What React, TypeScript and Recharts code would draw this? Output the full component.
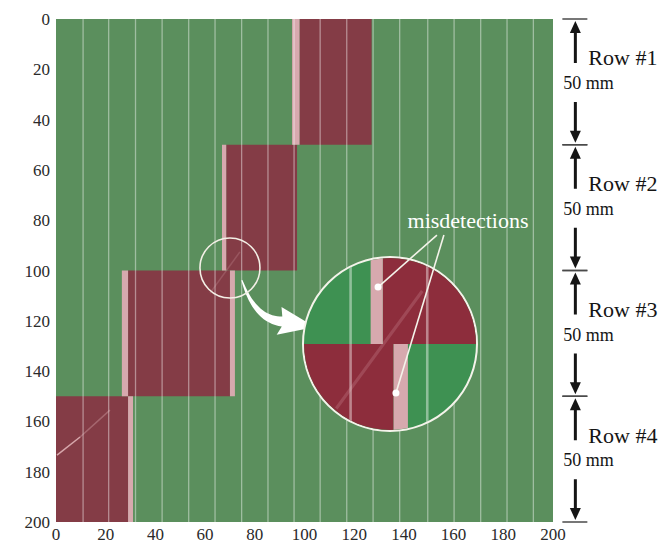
import React from 'react';
import { ComposedChart, XAxis, YAxis, ReferenceArea, ReferenceLine, ReferenceDot } from 'recharts';

const W = 664;
const H = 546;
const SERIF = 'Liberation Serif, Times New Roman, Times, serif';

const GREEN = '#5b8f5d';
const RED = '#843c46';
const STRIP = '#d7a9ae';
const LENS_GREEN = '#3e9152';
const LENS_RED = '#8d2d3c';
const INK = '#151515';

const xTicks = [0, 20, 40, 60, 80, 100, 120, 140, 160, 180, 200];
const yTicks = [0, 20, 40, 60, 80, 100, 120, 140, 160, 180, 200];

// scan rows (mm)
const rowStart = [0, 50, 100, 150];
const rowEnd = [50, 100, 150, 200];
const rowNames = ['Row #1', 'Row #2', 'Row #3', 'Row #4'];
const rowSize = '50 mm';

// detected (red) span in each row
const redFrom = [98, 68.5, 29, 0];
const redTo = [127, 97, 70, 29];

// light edge strips next to the detected spans
const stripFrom = [95, 66.8, 26.5, 70, 29];
const stripTo = [98, 68.5, 29, 72, 31];
const stripRow = [0, 1, 2, 2, 3];

// vertical scan tracks
const scanLines = [10.9, 21.2, 32, 42.7, 53.4, 64, 74.7, 85.3, 95.8, 106.3, 117, 127.6, 138.3, 149.6, 160.2, 170.9, 181.5, 192.1];

// scratch streaks
const streakX1 = [0.4, 9.7, 62];
const streakY1 = [173.4, 166.2, 109];
const streakX2 = [9.7, 21.7, 74];
const streakY2 = [166.2, 155.5, 92.6];
const streakAlpha = [0.75, 0.3, 0.18];

// magnified spot and the window shown in the lens
const spot = { x: 70, y: 99 };
const lensX = [57.5, 81.5];
const lensY = [88, 112];

// arrow from spot to lens
const arrowFrom = { x: 74.8, y: 103.8 };
const arrowTo = { x: 104.2, y: 122.5 };

// misdetection callouts
const missX = [129.6, 136.8];
const missY = [106.6, 148.7];
const leaderX = [153.3, 156.1];
const leaderY = [85.9, 85.9];
const missLabel = { x: 165.8, y: 80, text: 'misdetections' };

// dimension column right of the plot
const dimX = 209;

const RowDim = (p: any) => {
  const { x1, y1, y2, name } = p;
  const h = y2 - y1;
  const x = x1;
  const upEnd = y1 + h * 0.35;
  const downStart = y1 + h * 0.66;
  return (
    <g>
      <line x1={x - 13} x2={x + 12} y1={y1} y2={y1} stroke="#4a4a4a" strokeWidth={1.5} />
      <line x1={x - 13} x2={x + 12} y1={y2} y2={y2} stroke="#4a4a4a" strokeWidth={1.5} />
      <line x1={x} x2={x} y1={y1 + 10} y2={upEnd} stroke={INK} strokeWidth={3} />
      <path d={`M${x},${y1 + 2} L${x - 5.5},${y1 + 14} L${x + 5.5},${y1 + 14} Z`} fill={INK} />
      <line x1={x} x2={x} y1={downStart} y2={y2 - 10} stroke={INK} strokeWidth={3} />
      <path d={`M${x},${y2 - 2} L${x - 5.5},${y2 - 14} L${x + 5.5},${y2 - 14} Z`} fill={INK} />
      <text x={x + 13} y={y1 + h * 0.31} dominantBaseline="central" fontFamily={SERIF} fontSize={22} fill={INK}>
        {name}
      </text>
      <text x={x - 12} y={y1 + h * 0.51} dominantBaseline="central" fontFamily={SERIF} fontSize={18} fill={INK}>
        {rowSize}
      </text>
    </g>
  );
};

const CurvedArrow = (p: any) => {
  const { x1, y1, x2, y2 } = p;
  const dx = x2 - x1;
  const dy = y2 - y1;
  const bx = x1 + dx * 0.55;
  const by = y1 + dy * 0.88;
  const cx = x1 + dx * 0.18;
  const cy = y1 + dy * 0.85;
  const left: number[][] = [];
  const right: number[][] = [];
  const n = 18;
  for (let i = 0; i <= n; i++) {
    const t = i / n;
    const px = (1 - t) * (1 - t) * x1 + 2 * (1 - t) * t * cx + t * t * bx;
    const py = (1 - t) * (1 - t) * y1 + 2 * (1 - t) * t * cy + t * t * by;
    const tx = 2 * (1 - t) * (cx - x1) + 2 * t * (bx - cx);
    const ty = 2 * (1 - t) * (cy - y1) + 2 * t * (by - cy);
    const len = Math.hypot(tx, ty) || 1;
    const nx = -ty / len;
    const ny = tx / len;
    const w = 0.6 + 4.4 * t;
    left.push([px + nx * w, py + ny * w]);
    right.push([px - nx * w, py - ny * w]);
  }
  const hl = Math.hypot(x2 - bx, y2 - by) || 1;
  const ux = (x2 - bx) / hl;
  const uy = (y2 - by) / hl;
  const nx = -uy;
  const ny = ux;
  const barbA = [bx - ux * 3 + nx * 14, by - uy * 3 + ny * 14];
  const barbB = [bx - ux * 3 - nx * 14, by - uy * 3 - ny * 14];
  const pts = [...left, barbA, [x2, y2], barbB, ...right.reverse()];
  const d = 'M' + pts.map((q) => `${q[0].toFixed(1)},${q[1].toFixed(1)}`).join(' L') + ' Z';
  return <path d={d} fill="#ffffff" />;
};

const tickStyle = { fontFamily: SERIF, fontSize: 17, fill: '#2a2a2a' };

function FieldLayers(green: string, red: string, lineWidth: number, overflow: 'discard' | 'hidden') {
  return [
    ...rowStart.map((y0, i) => (
      <ReferenceArea key={`red-${i}`} x1={redFrom[i]} x2={redTo[i]} y1={y0} y2={rowEnd[i]}
        fill={red} fillOpacity={1} stroke="none" ifOverflow={overflow} />
    )),
    ...stripFrom.map((x0, i) => (
      <ReferenceArea key={`strip-${i}`} x1={x0} x2={stripTo[i]} y1={rowStart[stripRow[i]]} y2={rowEnd[stripRow[i]]}
        fill={STRIP} fillOpacity={1} stroke="none" ifOverflow={overflow} />
    )),
    ...scanLines.map((x, i) => (
      <ReferenceLine key={`scan-${i}`} x={x} stroke="#ffffff" strokeOpacity={0.42} strokeWidth={lineWidth}
        ifOverflow={overflow} />
    )),
    ...streakX1.map((x, i) => (
      <ReferenceLine key={`streak-${i}`} segment={[{ x, y: streakY1[i] }, { x: streakX2[i], y: streakY2[i] }]}
        stroke="#f2c9cc" strokeOpacity={streakAlpha[i]} strokeWidth={lineWidth * 1.2} ifOverflow="hidden" />
    )),
  ];
}

export default function App() {
  return (
    <div style={{ position: 'absolute', left: 0, top: 0, width: W, height: H, background: '#ffffff' }}>
      <ComposedChart width={W} height={H} data={[]} margin={{ top: 19, right: 111, bottom: 0, left: 0 }}>
        <XAxis type="number" dataKey="x" domain={[0, 200]} allowDataOverflow ticks={xTicks} interval={0} height={24}
          axisLine={false} tickLine={false} tickSize={4} tickMargin={2} tick={tickStyle} />
        <YAxis type="number" dataKey="y" domain={[0, 200]} allowDataOverflow reversed ticks={yTicks} interval={0} width={56}
          axisLine={false} tickLine={false} tickSize={4} tickMargin={2} tick={tickStyle} />
        <ReferenceArea x1={0} x2={200} y1={0} y2={200} fill={GREEN} fillOpacity={1} stroke="none" />
        {FieldLayers(GREEN, RED, 1.3, 'discard')}
        <ReferenceDot x={spot.x} y={spot.y} r={30} fill="none" stroke="#f3efe6" strokeWidth={1.6} />
        <ReferenceLine segment={[arrowFrom, arrowTo]} shape={CurvedArrow} ifOverflow="visible" />
        {rowStart.map((y0, i) => (
          <ReferenceLine key={`dim-${i}`} segment={[{ x: dimX, y: y0 }, { x: dimX, y: rowEnd[i] }]}
            ifOverflow="visible" shape={(p: any) => <RowDim {...p} name={rowNames[i]} />} />
        ))}
      </ComposedChart>

      <div style={{
        position: 'absolute', left: 302, top: 256, width: 176, height: 176, boxSizing: 'border-box',
        borderRadius: '50%', border: '2px solid #f4f3ea', overflow: 'hidden', background: LENS_GREEN,
      }}>
        <ComposedChart width={172} height={172} data={[]} margin={{ top: 0, right: 0, bottom: 0, left: 0 }}>
          <XAxis hide type="number" dataKey="x" domain={lensX} allowDataOverflow />
          <YAxis hide type="number" dataKey="y" domain={lensY} reversed allowDataOverflow />
          {FieldLayers(LENS_GREEN, LENS_RED, 2.6, 'hidden')}
        </ComposedChart>
      </div>

      <div style={{ position: 'absolute', left: 0, top: 0, pointerEvents: 'none' }}>
        <ComposedChart width={W} height={H} data={[]} margin={{ top: 19, right: 111, bottom: 24, left: 56 }}>
          <XAxis hide type="number" dataKey="x" domain={[0, 200]} allowDataOverflow />
          <YAxis hide type="number" dataKey="y" domain={[0, 200]} allowDataOverflow reversed />
          {missX.map((x, i) => (
            <ReferenceLine key={`lead-${i}`} segment={[{ x: leaderX[i], y: leaderY[i] }, { x, y: missY[i] }]}
              stroke="#f4f3ea" strokeWidth={1.6} ifOverflow="visible" />
          ))}
          {missX.map((x, i) => (
            <ReferenceDot key={`miss-${i}`} x={x} y={missY[i]} r={3.5} fill="#ffffff" stroke="none" />
          ))}
          <ReferenceDot x={missLabel.x} y={missLabel.y} r={0} fill="none" stroke="none"
            label={{ value: missLabel.text, position: 'center', fill: '#ffffff', fontSize: 22, fontFamily: SERIF }} />
        </ComposedChart>
      </div>
    </div>
  );
}
